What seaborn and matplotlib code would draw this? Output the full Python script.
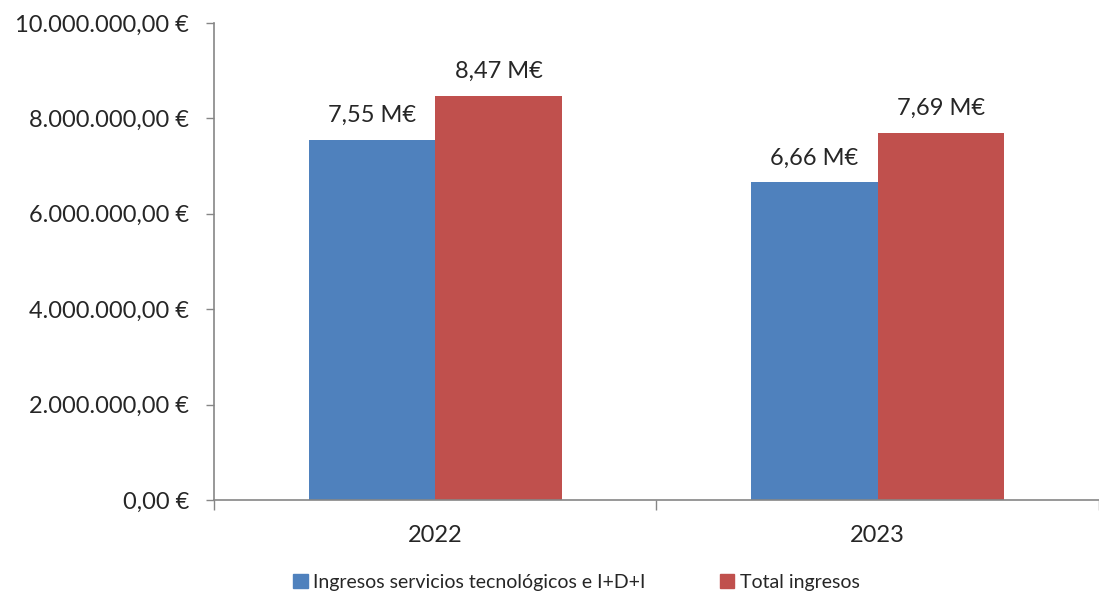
import pandas as pd
import matplotlib
matplotlib.use('Agg')
import matplotlib.pyplot as plt
import seaborn as sns
from matplotlib.ticker import FuncFormatter, FixedLocator
from matplotlib.patches import Patch

# datos
years = ['2022', '2023']
series = ['Ingresos servicios tecnológicos e I+D+I', 'Total ingresos']
servicios = [7550000, 6660000]
total = [8470000, 7690000]
etiquetas_servicios = ['7,55 M€', '6,66 M€']
etiquetas_total = ['8,47 M€', '7,69 M€']

df = pd.DataFrame({
    'year': years * 2,
    'serie': [series[0]] * 2 + [series[1]] * 2,
    'valor': servicios + total,
})

sns.set_style('white')
plt.rcParams['font.family'] = ['Lato', 'DejaVu Sans']

fig = plt.figure(figsize=(10.99, 5.93), dpi=100)
ax = fig.add_axes([0.1947, 0.1568, 0.8053, 0.8044])

colores = ['#4F81BD', '#C0504D']
sns.barplot(data=df, x='year', y='valor', hue='serie', palette=colores,
            width=0.572, ax=ax, legend=False, saturation=1, edgecolor='none')

# etiquetas encima de las barras
for cont, labs in zip(ax.containers, [etiquetas_servicios, etiquetas_total]):
    ax.bar_label(cont, labels=labs, padding=10, fontsize=17)

ax.set_xlim(-0.5, 1.5)
ax.set_ylim(0, 10000000)
ax.set_yticks([0, 2000000, 4000000, 6000000, 8000000, 10000000])


def euros(v, pos):
    s = f'{v:,.2f}'.replace(',', 'X').replace('.', ',').replace('X', '.')
    return s + ' €'


ax.yaxis.set_major_formatter(FuncFormatter(euros))
ax.tick_params(axis='y', length=6, width=1, color='#868686', direction='out',
               labelsize=17, pad=12, left=True)
ax.tick_params(axis='x', which='major', length=0, labelsize=17, pad=18)
ax.xaxis.set_minor_locator(FixedLocator([-0.5, 0.5, 1.5]))
ax.tick_params(axis='x', which='minor', length=7, width=1, color='#868686',
               direction='out', bottom=True)

for s in ['top', 'right']:
    ax.spines[s].set_visible(False)
for s in ['left', 'bottom']:
    ax.spines[s].set_color('#868686')
    ax.spines[s].set_linewidth(1.2)

ax.set_xlabel('')
ax.set_ylabel('')

# leyenda
handles = [Patch(color=c) for c in colores]
fig.legend(handles, series, loc='center', bbox_to_anchor=(0.5245, 0.018),
           ncol=2, frameon=False, fontsize=14, handlelength=0.75, handleheight=0.75,
           handletextpad=0.3, columnspacing=3.8)

plt.savefig('out.png', dpi=100)
